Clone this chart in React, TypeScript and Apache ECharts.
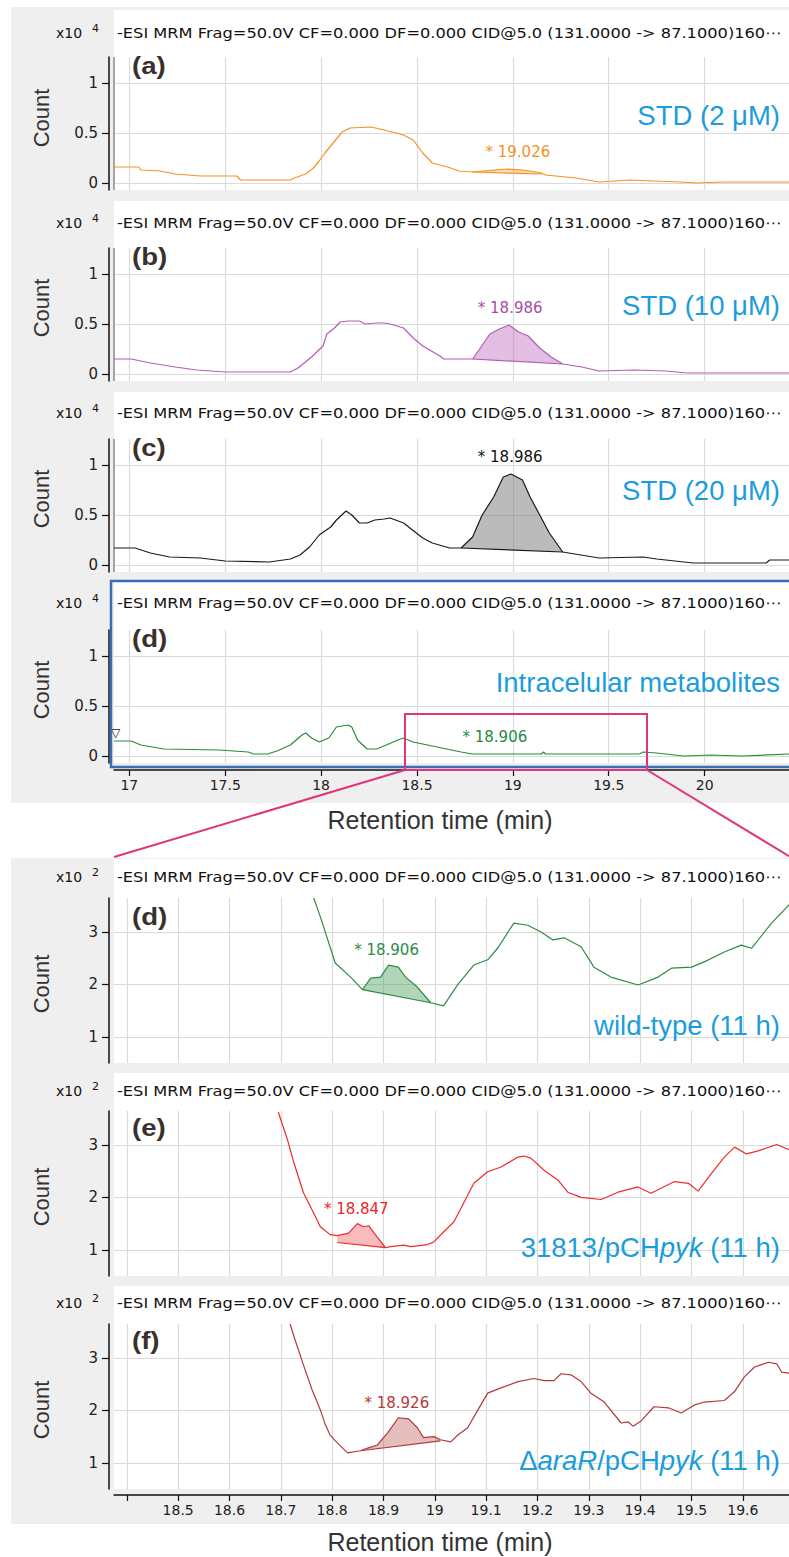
import { useEffect, useRef } from 'react';
import * as echarts from 'echarts';

// ---------- tick values ----------
const upperXTicks = [17, 17.5, 18, 18.5, 19, 19.5, 20];
const upperYTicks = [0, 0.5, 1];
const lowerXTicks = [18.4, 18.5, 18.6, 18.7, 18.8, 18.9, 19, 19.1, 19.2, 19.3, 19.4, 19.5, 19.6];
const lowerXLabels = [18.5, 18.6, 18.7, 18.8, 18.9, 19, 19.1, 19.2, 19.3, 19.4, 19.5, 19.6];
const lowerYTicks = [1, 2, 3];

// ---------- traces: [retention time (min), count] ----------
// upper panels: count x10^4
const traceA = [
  [16.92, 0.16], [17.05, 0.16], [17.06, 0.13], [17.16, 0.12], [17.24, 0.09], [17.37, 0.07], [17.56, 0.07],
  [17.58, 0.03], [17.84, 0.03], [17.86, 0.05], [17.92, 0.09], [17.96, 0.15], [17.99, 0.22], [18.02, 0.3],
  [18.05, 0.37], [18.08, 0.44], [18.11, 0.51], [18.15, 0.55], [18.26, 0.56], [18.33, 0.53], [18.39, 0.5],
  [18.43, 0.48], [18.48, 0.43], [18.53, 0.3], [18.58, 0.2], [18.66, 0.16], [18.72, 0.12], [18.79, 0.11],
  [18.84, 0.12], [18.97, 0.14], [19.05, 0.13], [19.12, 0.11], [19.15, 0.1], [19.17, 0.08], [19.33, 0.05],
  [19.45, 0.01], [19.61, 0.03], [19.87, 0.01], [19.96, 0.0], [20.09, 0.01], [20.44, 0.01],
];
const traceB = [
  [16.92, 0.15], [17.01, 0.15], [17.11, 0.11], [17.24, 0.07], [17.35, 0.04], [17.5, 0.02], [17.84, 0.02],
  [17.88, 0.06], [17.95, 0.17], [18.01, 0.28], [18.03, 0.4], [18.07, 0.46], [18.1, 0.52], [18.14, 0.53],
  [18.2, 0.53], [18.23, 0.5], [18.29, 0.51], [18.33, 0.51], [18.36, 0.5], [18.43, 0.46], [18.48, 0.36],
  [18.53, 0.28], [18.62, 0.18], [18.64, 0.15], [18.79, 0.15], [18.83, 0.26], [18.88, 0.4], [18.93, 0.45],
  [18.98, 0.49], [19.03, 0.42], [19.08, 0.38], [19.14, 0.26], [19.2, 0.17], [19.26, 0.1], [19.36, 0.07],
  [19.45, 0.03], [19.63, 0.04], [19.8, 0.03], [19.91, 0.01], [20.44, 0.01],
];
const traceC = [
  [16.92, 0.17], [17.03, 0.17], [17.11, 0.12], [17.21, 0.08], [17.37, 0.07], [17.5, 0.04], [17.73, 0.03],
  [17.84, 0.06], [17.89, 0.1], [17.94, 0.18], [17.99, 0.3], [18.05, 0.38], [18.08, 0.45], [18.13, 0.54],
  [18.16, 0.5], [18.2, 0.42], [18.24, 0.42], [18.28, 0.45], [18.33, 0.46], [18.36, 0.47], [18.43, 0.42],
  [18.49, 0.33], [18.53, 0.27], [18.58, 0.22], [18.67, 0.17], [18.73, 0.17], [18.79, 0.28], [18.84, 0.5],
  [18.9, 0.68], [18.95, 0.88], [18.99, 0.91], [19.05, 0.85], [19.09, 0.68], [19.14, 0.5], [19.19, 0.32],
  [19.26, 0.13], [19.45, 0.07], [19.68, 0.08], [19.75, 0.06], [19.94, 0.02], [20.32, 0.02], [20.34, 0.05],
  [20.44, 0.05],
];
const traceD = [
  [16.92, 0.15], [17.01, 0.15], [17.06, 0.11], [17.18, 0.07], [17.47, 0.06], [17.62, 0.04], [17.65, 0.02],
  [17.72, 0.02], [17.77, 0.05], [17.84, 0.11], [17.9, 0.21], [17.92, 0.23], [17.95, 0.18], [17.99, 0.14],
  [18.04, 0.18], [18.08, 0.29], [18.14, 0.31], [18.16, 0.29], [18.19, 0.16], [18.24, 0.07], [18.29, 0.07],
  [18.34, 0.11], [18.4, 0.16], [18.43, 0.18], [18.48, 0.14], [18.58, 0.1], [18.73, 0.04], [18.79, 0.02],
  [19.15, 0.02], [19.16, 0.04], [19.17, 0.02], [19.66, 0.02], [19.68, 0.04], [19.75, 0.03], [19.89, 0.0],
  [20.03, 0.01], [20.2, 0.0], [20.44, 0.02],
];
// lower (zoomed) panels: count x10^2
const zoomD = [
  [18.764, 3.65], [18.777, 3.29], [18.806, 2.41], [18.836, 2.14], [18.859, 1.9], [18.875, 2.12], [18.894, 2.14],
  [18.91, 2.37], [18.929, 2.33], [18.943, 2.14], [18.966, 1.95], [18.992, 1.65], [19.017, 1.59], [19.045, 2.0],
  [19.076, 2.37], [19.103, 2.47], [19.123, 2.7], [19.154, 3.17], [19.181, 3.13], [19.207, 3.0], [19.23, 2.85],
  [19.252, 2.89], [19.285, 2.72], [19.31, 2.33], [19.343, 2.14], [19.396, 1.99], [19.435, 2.14], [19.461, 2.31],
  [19.5, 2.33], [19.525, 2.43], [19.564, 2.62], [19.597, 2.75], [19.617, 2.69], [19.656, 3.17], [19.693, 3.55],
];
const zoomE = [
  [18.695, 3.63], [18.713, 3.1], [18.724, 2.71], [18.744, 2.09], [18.763, 1.72], [18.777, 1.44], [18.796, 1.29],
  [18.81, 1.27], [18.832, 1.32], [18.849, 1.5], [18.861, 1.44], [18.871, 1.46], [18.884, 1.29], [18.904, 1.04],
  [18.914, 1.06], [18.939, 1.09], [18.953, 1.06], [18.986, 1.1], [18.998, 1.15], [19.017, 1.34], [19.037, 1.53],
  [19.056, 1.89], [19.076, 2.27], [19.103, 2.49], [19.129, 2.58], [19.162, 2.77], [19.173, 2.79], [19.187, 2.75],
  [19.213, 2.52], [19.24, 2.33], [19.259, 2.1], [19.285, 2.0], [19.324, 1.96], [19.357, 2.1], [19.396, 2.2],
  [19.421, 2.08], [19.466, 2.3], [19.494, 2.27], [19.513, 2.12], [19.539, 2.46], [19.564, 2.77], [19.584, 2.96],
  [19.607, 2.83], [19.63, 2.89], [19.666, 3.01], [19.693, 2.9],
];
const zoomF = [
  [18.718, 3.65], [18.728, 3.34], [18.744, 2.87], [18.761, 2.39], [18.777, 2.01], [18.787, 1.72], [18.796, 1.53],
  [18.81, 1.38], [18.83, 1.19], [18.855, 1.23], [18.869, 1.28], [18.888, 1.34], [18.908, 1.57], [18.929, 1.86],
  [18.949, 1.84], [18.966, 1.67], [18.978, 1.48], [18.998, 1.5], [19.011, 1.44], [19.031, 1.4], [19.045, 1.53],
  [19.064, 1.67], [19.084, 2.01], [19.103, 2.33], [19.129, 2.43], [19.162, 2.55], [19.193, 2.61], [19.213, 2.57],
  [19.232, 2.57], [19.246, 2.7], [19.265, 2.68], [19.285, 2.55], [19.304, 2.33], [19.33, 2.16], [19.363, 1.76],
  [19.377, 1.78], [19.386, 1.7], [19.402, 1.8], [19.427, 2.07], [19.455, 2.05], [19.48, 1.95], [19.505, 2.1],
  [19.525, 2.16], [19.564, 2.19], [19.584, 2.36], [19.603, 2.64], [19.623, 2.83], [19.65, 2.92], [19.666, 2.89],
  [19.676, 2.73], [19.693, 2.71],
];

// integrated peaks: [start rt, end rt], baseline counts at start / end
const peakRangeA = [18.79, 19.15];
const peakBaseA = [0.11, 0.09];
const peakRangeB = [18.79, 19.26];
const peakBaseB = [0.15, 0.1];
const peakRangeC = [18.73, 19.26];
const peakBaseC = [0.17, 0.13];
const peakRangeZD = [18.859, 18.992];
const peakBaseZD = [1.9, 1.65];
const peakRangeZE = [18.81, 18.904];
const peakBaseZE = [1.14, 1.04];
const peakRangeZF = [18.855, 19.011];
const peakBaseZF = [1.23, 1.42];

// peak apex annotations [rt, count]
const apexA = [19.026, 0.14];
const apexB = [18.986, 0.49];
const apexC = [18.986, 0.91];
const apexD = [18.906, 0.02];
const apexZD = [18.906, 2.37];
const apexZE = [18.847, 1.5];
const apexZF = [18.926, 1.86];

const HEADER = '-ESI MRM Frag=50.0V CF=0.000 DF=0.000 CID@5.0 (131.0000 -> 87.1000)160\u22EF';
const SANS = "'Liberation Sans', Arial, Helvetica, sans-serif";
const SMALL = "'DejaVu Sans', 'Liberation Sans', sans-serif";
const BLUE = '#1b9ddb';

type PanelCfg = {
  data: number[][];
  range?: number[];
  base?: number[];
  apex: number[];
  color: string;
  labelColor: string;
  fill: string;
  upper: boolean;
};

const panels: PanelCfg[] = [
  { data: traceA, range: peakRangeA, base: peakBaseA, apex: apexA, color: '#f39323', labelColor: '#f39323', fill: 'rgba(246,170,90,0.45)', upper: true },
  { data: traceB, range: peakRangeB, base: peakBaseB, apex: apexB, color: '#b45cb4', labelColor: '#a64da6', fill: 'rgba(190,110,190,0.45)', upper: true },
  { data: traceC, range: peakRangeC, base: peakBaseC, apex: apexC, color: '#1a1a1a', labelColor: '#111111', fill: 'rgba(120,120,120,0.5)', upper: true },
  { data: traceD, apex: apexD, color: '#2a8a3c', labelColor: '#2a8a3c', fill: 'rgba(60,150,80,0.4)', upper: true },
  { data: zoomD, range: peakRangeZD, base: peakBaseZD, apex: apexZD, color: '#2e8b45', labelColor: '#2e8b45', fill: 'rgba(60,150,80,0.4)', upper: false },
  { data: zoomE, range: peakRangeZE, base: peakBaseZE, apex: apexZE, color: '#ee2b2b', labelColor: '#e82828', fill: 'rgba(238,60,60,0.35)', upper: false },
  { data: zoomF, range: peakRangeZF, base: peakBaseZF, apex: apexZF, color: '#b3383a', labelColor: '#b3383a', fill: 'rgba(180,70,70,0.35)', upper: false },
];
const peakTexts = ['* 19.026', '* 18.986', '* 18.986', '* 18.906', '* 18.906', '* 18.847', '* 18.926'];
const letters = ['(a)', '(b)', '(c)', '(d)', '(d)', '(e)', '(f)'];

// ---------- layout (pixels) ----------
const PLOT_LEFT = 114;
const PLOT_W = 675;
const gridTops = [57, 248, 439, 630, 898, 1111, 1324];
const UPPER_H = 133;
const LOWER_H = 165;
const headerYs = [33, 223, 413, 603, 877, 1091, 1303];
const cardTops = [10, 201, 392, 582, 859, 1073, 1286];
const countYs = [118, 308, 499, 690, 984, 1197, 1410];
const letterYs = [66, 257, 448, 639, 917, 1128, 1341];
const labelYs = [115, 305, 490, 682, 1025, 1247, 1460];

function buildOption() {
  const grid: any[] = [];
  const xAxis: any[] = [];
  const yAxis: any[] = [];
  const series: any[] = [];
  const graphic: any[] = [];

  // backgrounds
  graphic.push({ type: 'rect', z: 0, silent: true, shape: { x: 11, y: 7, width: 778, height: 796 }, style: { fill: '#efefef' } });
  graphic.push({ type: 'rect', z: 0, silent: true, shape: { x: 11, y: 858, width: 778, height: 666 }, style: { fill: '#efefef' } });

  panels.forEach((p, i) => {
    const h = p.upper ? UPPER_H : LOWER_H;
    const top = gridTops[i];
    const xMin = p.upper ? 16.92 : 18.375;
    grid.push({ left: PLOT_LEFT, top, width: PLOT_W, height: h, containLabel: false });
    const showX = i === 3 || i === 6;
    const xTicks = p.upper ? upperXTicks : lowerXTicks;
    const yTicks = p.upper ? upperYTicks : lowerYTicks;
    xAxis.push({
      type: 'value',
      gridIndex: i,
      min: xMin,
      max: p.upper ? 20.44 : 19.69,
      show: showX,
      z: 4,
      offset: i === 3 ? 7 : 6,
      axisLine: { show: true, onZero: false, lineStyle: { color: '#111', width: 1.5 } },
      axisTick: { show: true, customValues: xTicks, length: 6, lineStyle: { color: '#111', width: 1.2 } },
      axisLabel: {
        show: true,
        customValues: p.upper ? upperXTicks : lowerXLabels,
        formatter: (v: number) => String(Number(v.toFixed(2))),
        fontSize: 14,
        color: '#222',
        fontFamily: SMALL,
        margin: 8,
      },
      splitLine: { show: false },
    });
    yAxis.push({
      type: 'value',
      gridIndex: i,
      min: p.upper ? -0.07 : 0.5,
      max: p.upper ? 1.26 : 3.65,
      z: 4,
      offset: 5,
      axisLine: { show: true, onZero: false, lineStyle: { color: '#111', width: 1.5 } },
      axisTick: { show: true, customValues: yTicks, length: 7, lineStyle: { color: '#111', width: 1.2 } },
      axisLabel: { show: true, customValues: yTicks, fontSize: 15, color: '#222', fontFamily: SMALL, margin: 11 },
      splitLine: { show: false },
    });

    // gridlines (plus the darker left border of the upper plots)
    const lines: any[] = [...xTicks.map((v) => ({ xAxis: v })), ...yTicks.map((v) => ({ yAxis: v }))];
    if (p.upper && i < 3) lines.push({ xAxis: xMin, lineStyle: { color: '#8a8a8a', width: 1.5, type: 'solid' } });
    series.push({
      type: 'line',
      xAxisIndex: i,
      yAxisIndex: i,
      data: [],
      z: 1,
      silent: true,
      markLine: {
        z: 1,
        silent: true,
        symbol: ['none', 'none'],
        label: { show: false },
        lineStyle: { color: '#dadada', width: 1.2, type: 'solid' },
        data: lines,
      },
    });

    // integrated peak area
    if (p.range && p.base) {
      const [r0, r1] = p.range;
      const [b0, b1] = p.base;
      const pts = p.data.filter((d) => d[0] >= r0 - 1e-9 && d[0] <= r1 + 1e-9);
      const fill = p.fill;
      const stroke = p.color;
      series.push({
        type: 'custom',
        xAxisIndex: i,
        yAxisIndex: i,
        z: 2,
        silent: true,
        data: [[r0, b0]],
        renderItem: (_params: any, api: any) => {
          const poly = pts.map((d) => api.coord(d));
          const a = api.coord([r0, b0]);
          const b = api.coord([r1, b1]);
          poly.push(b);
          poly.push(a);
          return {
            type: 'group',
            children: [
              { type: 'polygon', shape: { points: poly }, style: { fill, stroke: 'none' } },
              { type: 'line', shape: { x1: a[0], y1: a[1], x2: b[0], y2: b[1] }, style: { stroke, lineWidth: 1.2 } },
            ],
          };
        },
      });
    }

    // trace
    series.push({
      type: 'line',
      xAxisIndex: i,
      yAxisIndex: i,
      z: 3,
      data: p.data,
      showSymbol: false,
      symbol: 'none',
      clip: true,
      lineStyle: { color: p.color, width: 1.2 },
      silent: true,
      markPoint: {
        silent: true,
        symbol: 'circle',
        symbolSize: 0,
        data: [{ coord: p.apex }],
        label: {
          show: true,
          position: 'inside',
          offset: [0, p.upper ? -17 : -15],
          formatter: peakTexts[i],
          color: p.labelColor,
          fontSize: 15,
          fontFamily: SMALL,
        },
      },
    });

    // card, header, decorations
    const cardBottom = top + h;
    graphic.push({
      type: 'rect', z: 0, silent: true,
      shape: { x: PLOT_LEFT, y: cardTops[i], width: PLOT_W, height: cardBottom - cardTops[i] },
      style: { fill: '#ffffff' },
    });
    graphic.push({
      type: 'text', z: 10, silent: true, x: 117, y: headerYs[i], scaleX: 1.12,
      style: { text: HEADER, fontSize: 14.5, fontFamily: SMALL, fill: '#111', verticalAlign: 'middle', align: 'left' },
    });
    graphic.push({
      type: 'text', z: 10, silent: true, x: 56, y: headerYs[i],
      style: { text: 'x10', fontSize: 14, fontFamily: SMALL, fill: '#111', verticalAlign: 'middle', align: 'left' },
    });
    graphic.push({
      type: 'text', z: 10, silent: true, x: 92, y: headerYs[i] - 5,
      style: { text: p.upper ? '4' : '2', fontSize: 11, fontFamily: SMALL, fill: '#111', verticalAlign: 'middle', align: 'left' },
    });
    graphic.push({
      type: 'text', z: 10, silent: true, x: 41, y: countYs[i], rotation: Math.PI / 2,
      style: { text: 'Count', fontSize: 22, fontFamily: SANS, fill: '#333', verticalAlign: 'middle', align: 'center' },
    });
    graphic.push({
      type: 'text', z: 10, silent: true, x: 132, y: letterYs[i], scaleX: 1.2,
      style: { text: letters[i], fontSize: 23, fontWeight: 'bold', fontFamily: SANS, fill: '#3a302e', verticalAlign: 'middle', align: 'left' },
    });
  });

  // sample labels
  const labelStyle = (text: string, y: number) => ({
    type: 'text', z: 10, silent: true, x: 780, y,
    style: {
      text,
      align: 'right',
      verticalAlign: 'middle',
      rich: {
        n: { fontSize: 27.5, fontFamily: SANS, fill: BLUE, color: BLUE },
        i: { fontSize: 27.5, fontFamily: SANS, fontStyle: 'italic', fill: BLUE, color: BLUE },
      },
    },
  });
  graphic.push(labelStyle('{n|STD (2 μM)}', labelYs[0]));
  graphic.push(labelStyle('{n|STD (10 μM)}', labelYs[1]));
  graphic.push(labelStyle('{n|STD (20 μM)}', labelYs[2]));
  graphic.push(labelStyle('{n|Intracelular metabolites}', labelYs[3]));
  graphic.push(labelStyle('{n|wild-type (11 h)}', labelYs[4]));
  graphic.push(labelStyle('{n|31813/pCH}{i|pyk}{n| (11 h)}', labelYs[5]));
  graphic.push(labelStyle('{n|Δ}{i|araR}{n|/pCH}{i|pyk}{n| (11 h)}', labelYs[6]));

  // axis titles
  [820, 1542].forEach((y) => {
    graphic.push({
      type: 'text', z: 10, silent: true, x: 440, y,
      style: { text: 'Retention time (min)', fontSize: 25, fontFamily: SANS, fill: '#333', align: 'center', verticalAlign: 'middle' },
    });
  });

  // small marker at start of trace (d)
  graphic.push({
    type: 'text', z: 10, silent: true, x: 111, y: 733,
    style: { text: '▽', fontSize: 12, fontFamily: SMALL, fill: '#111', verticalAlign: 'middle', align: 'left' },
  });

  // highlight boxes and zoom connectors
  graphic.push({
    type: 'rect', z: 11, silent: true,
    shape: { x: 111, y: 581, width: 690, height: 186 },
    style: { fill: 'none', stroke: '#3a6db5', lineWidth: 2.5 },
  });
  graphic.push({
    type: 'rect', z: 12, silent: true,
    shape: { x: 405, y: 714, width: 242, height: 56 },
    style: { fill: 'none', stroke: '#e2337c', lineWidth: 2 },
  });
  graphic.push({
    type: 'line', z: 12, silent: true,
    shape: { x1: 405, y1: 770, x2: 114, y2: 857 },
    style: { stroke: '#e2337c', lineWidth: 2 },
  });
  graphic.push({
    type: 'line', z: 12, silent: true,
    shape: { x1: 647, y1: 770, x2: 792, y2: 858 },
    style: { stroke: '#e2337c', lineWidth: 2 },
  });

  return {
    animation: false,
    backgroundColor: '#ffffff',
    grid,
    xAxis,
    yAxis,
    series,
    graphic: { elements: graphic },
  };
}

export default function App() {
  const ref = useRef<HTMLDivElement>(null);
  useEffect(() => {
    if (!ref.current) return;
    const chart = echarts.init(ref.current, null, { renderer: 'svg' });
    chart.setOption(buildOption() as any);
    return () => {
      chart.dispose();
    };
  }, []);
  return (
    <div
      ref={ref}
      style={{ position: 'absolute', left: 0, top: 0, width: 789, height: 1557, background: '#fff' }}
    />
  );
}
